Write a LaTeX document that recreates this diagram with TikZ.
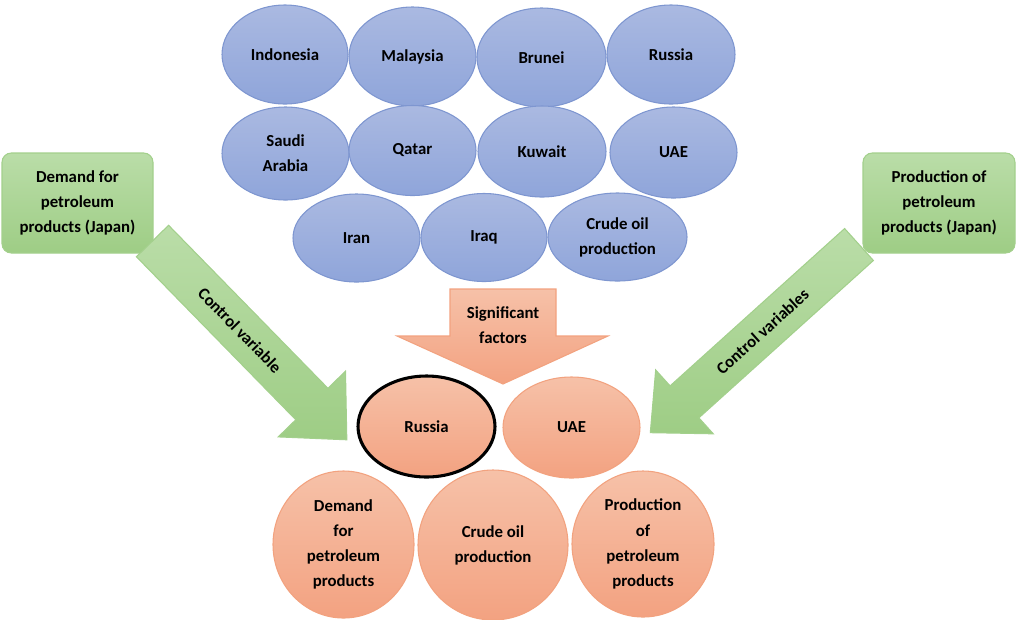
\documentclass[tikz,border=0pt]{standalone}
\usepackage{fontspec}
\setmainfont{Carlito}
\usetikzlibrary{shapes.geometric}

\definecolor{blueTop}{HTML}{AAB9E1}
\definecolor{blueBot}{HTML}{8FA5DA}
\definecolor{blueLine}{HTML}{7E96D0}
\definecolor{orTop}{HTML}{F6C1A8}
\definecolor{orBot}{HTML}{F3A281}
\definecolor{orLine}{HTML}{F2A27F}
\definecolor{grTop}{HTML}{BADDA8}
\definecolor{grBot}{HTML}{9ECD85}
\definecolor{grLine}{HTML}{A3D08C}

\tikzset{
  lbl/.style={font=\fontsize{12.6pt}{18.8pt}\selectfont\bfseries, align=center, text=black},
  oval/.style 2 args={ellipse, inner sep=0pt, minimum width=#1*0.75pt, minimum height=#2*0.75pt, lbl},
  bluefill/.style={shading=axis, top color=blueTop, bottom color=blueBot, draw=blueLine, line width=0.8pt},
  orfill/.style={shading=axis, top color=orTop, bottom color=orBot, draw=orLine, line width=0.8pt},
  grfill/.style={shading=axis, top color=grTop, bottom color=grBot, draw=grLine, line width=0.8pt},
  country/.style 2 args={oval={#1}{#2}, bluefill},
  result/.style 2 args={oval={#1}{#2}, orfill},
  sourcebox/.style 2 args={rectangle, rounded corners=7pt, inner sep=0pt,
    minimum width=#1*0.75pt, minimum height=#2*0.75pt, grfill, lbl},
}

\begin{document}
\begin{tikzpicture}[x=0.75pt, y=-0.75pt]
\useasboundingbox (0,0) rectangle (1017,619);

% countries and crude oil production considered
\node[country={126}{99}]  (indonesia) at (285,54.5)   {Indonesia};
\node[country={127}{99}]  (malaysia)  at (412.5,56.5) {Malaysia};
\node[country={129}{99}]  (brunei)    at (541.5,57.5) {Brunei};
\node[country={128}{99}]  (russiaA)   at (671,54.5)   {Russia};
\node[country={127}{93}]  (saudi)     at (285.5,153.5){Saudi\\Arabia};
\node[country={127}{90}]  (qatar)     at (412.5,150.5){Qatar};
\node[country={128}{91}]  (kuwait)    at (542,151.5)  {Kuwait};
\node[country={127}{91}]  (uaeA)      at (673.5,152.5){UAE};
\node[country={127}{88}]  (iran)      at (356.5,238)  {Iran};
\node[country={126}{88}]  (iraq)      at (484,237.5)  {Iraq};
\node[country={139}{88}]  (crudeA)    at (617.5,237)  {Crude oil\\production};

% control variable sources
\node[sourcebox={151}{100}] (demandJP) at (77.5,203) {Demand for\\petroleum\\products (Japan)};
\node[sourcebox={152}{100}] (prodJP)   at (939,203)  {Production of\\petroleum\\products (Japan)};

% block arrow: significant factors
\path[orfill] (450,289) -- (556,289) -- (556,336) -- (608,336) -- (503,384)
  -- (397,336) -- (450,336) -- cycle;
\node[lbl] (sig) at (503,325) {Significant\\factors};

% block arrow from the demand box
\begin{scope}[shift={(152.5,241)}, rotate=-45.65]
  \path[grfill] (0,-22.5) -- (228,-22.5) -- (228,-47) -- (278,0) -- (228,47)
    -- (228,22.5) -- (0,22.5) -- cycle;
  \node[lbl, rotate=-45.65] (cvL) at (125,0) {Control variable};
\end{scope}

% block arrow from the production box
\begin{scope}[shift={(859,244.5)}, rotate=-137.96]
  \path[grfill] (0,-21.5) -- (235,-21.5) -- (235,-43) -- (281,0) -- (235,43)
    -- (235,21.5) -- (0,21.5) -- cycle;
  \node[lbl, rotate=42.04] (cvR) at (130,0) {Control variables};
\end{scope}

% significant results
\node[result={137}{101}, draw=black, line width=2.3pt] (russiaB) at (426.5,426.5) {Russia};
\node[result={137}{101}] (uaeB) at (571.5,427.5) {UAE};
\node[result={141}{147}] (demandB) at (343.5,544.5) {Demand\\for\\petroleum\\products};
\node[result={150}{150}] (crudeB)  at (493,545)     {Crude oil\\production};
\node[result={142}{146}] (prodB)   at (643,544)     {Production\\of\\petroleum\\products};
\end{tikzpicture}
\end{document}
